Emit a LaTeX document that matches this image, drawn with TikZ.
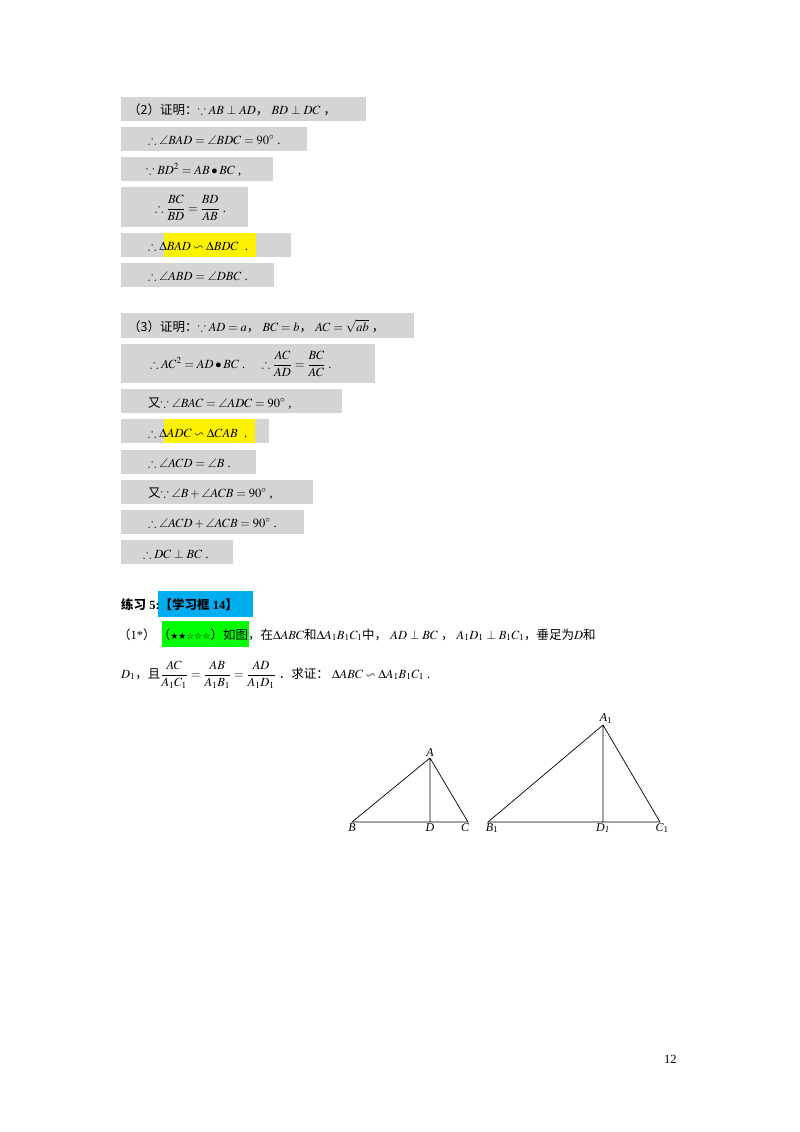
\documentclass[tikz,border=0pt]{standalone}
\usepackage{amsmath,amssymb}
\usepackage{mathptmx}
\usepackage{fontspec}
\setmainfont{Liberation Serif}
\newfontfamily\cjk{Noto Sans CJK SC}
\newfontfamily\djvfont{DejaVu Sans}
\begin{document}
\begin{tikzpicture}[x=1pt,y=-1pt,
  gb/.style={fill=black!17,draw=none},
  yb/.style={fill=yellow,draw=none},
  t/.style={anchor=base west,inner sep=0pt,font=\fontsize{12.5}{14}\selectfont},
  lb/.style={inner sep=1pt,font=\fontsize{12}{14}\itshape},
  ln/.style={line width=0.7pt}]
\useasboundingbox (0,0) rectangle (800,1132);
% section 2 boxes
\fill[gb] (121,97) rectangle (366,121);
\fill[gb] (121,127) rectangle (307,151);
\fill[gb] (121,157) rectangle (273,181);
\fill[gb] (121,187) rectangle (248,227);
\fill[gb] (121,233) rectangle (291,257);
\fill[yb] (164,233) rectangle (256,257);
\fill[gb] (121,263) rectangle (274,287);
\node[t] (s1) at (128,114) {{\cjk （2）证明：}$\because AB\perp AD${\cjk ，} $BD\perp DC$ {\cjk ，}};
\node[t] (s2) at (148,144) {$\therefore \angle BAD=\angle BDC=90^{\circ}$ .};
\node[t] (s3) at (146,174) {$\because BD^2=AB\bullet BC$ ,};
\node[t] (s4) at (155,212) {$\therefore \dfrac{BC}{BD}=\dfrac{BD}{AB}$ .};
\node[t] (s5) at (148,250) {$\therefore \Delta BAD\backsim\Delta BDC$ \ .};
\node[t] (s6) at (148,280) {$\therefore \angle ABD=\angle DBC$ .};
% section 3
\fill[gb] (121,313) rectangle (414,338);
\fill[gb] (121,344) rectangle (375,383);
\fill[gb] (121,389) rectangle (342,413);
\fill[gb] (121,419) rectangle (269,443);
\fill[yb] (164,419) rectangle (255,443);
\fill[gb] (121,450) rectangle (256,474);
\fill[gb] (121,480) rectangle (313,504);
\fill[gb] (121,510) rectangle (304,534);
\fill[gb] (121,540) rectangle (233,564);
\node[t] (r1) at (128,331) {{\cjk （3）证明：}$\because AD=a${\cjk ，} $BC=b${\cjk ，} $AC=\sqrt{ab}$ {\cjk ，}};
\node[t] (r2) at (150,368) {$\therefore AC^2=AD\bullet BC$ . \quad $\therefore \dfrac{AC}{AD}=\dfrac{BC}{AC}$ .};
\node[t] (r3) at (148,407) {{\cjk 又}$\because \angle BAC=\angle ADC=90^{\circ}$ ,};
\node[t] (r4) at (148,437) {$\therefore \Delta ADC\backsim\Delta CAB$ \ .};
\node[t] (r5) at (148,467) {$\therefore \angle ACD=\angle B$ .};
\node[t] (r6) at (148,497) {{\cjk 又}$\because \angle B+\angle ACB=90^{\circ}$ ,};
\node[t] (r7) at (148,527) {$\therefore \angle ACD+\angle ACB=90^{\circ}$ .};
\node[t] (r8) at (143,558) {$\therefore DC\perp BC$ .};
% exercise
\fill[cyan] (158,591) rectangle (253,617);
\fill[green] (162,621) rectangle (249,647);
\node[t] (e1) at (121,609) {\bfseries{\cjk 练习} 5:{\cjk 【学习框} 14{\cjk 】}};
\node[t] (e2) at (118,639) {{\cjk （}1*{\cjk ）}\,{\cjk （}{\djvfont\small ★★☆☆☆}{\cjk ）如图，在}$\Delta ABC${\cjk 和}$\Delta A_1B_1C_1${\cjk 中，} $AD\perp BC$ {\cjk ，} $A_1D_1\perp B_1C_1${\cjk ，垂足为}$D${\cjk 和}};
\node[t] (e3) at (121,678) {$D_1${\cjk ，且}$\dfrac{AC}{A_1C_1}=\dfrac{AB}{A_1B_1}=\dfrac{AD}{A_1D_1}$ {\cjk ．求证：} $\Delta ABC\backsim\Delta A_1B_1C_1$ .};
% triangles
\coordinate (A) at (430,758); \coordinate (B) at (352,822);
\coordinate (C) at (468,822); \coordinate (D) at (430,822);
\coordinate (A1) at (603,725); \coordinate (B1) at (488,822);
\coordinate (C1) at (660,822); \coordinate (D1) at (603,822);
\draw[ln] (B)--(A)--(C)--cycle (A)--(D);
\draw[ln] (B1)--(A1)--(C1)--cycle (A1)--(D1);
\node[lb,above] (lA) at (A) {A};
\node[lb,below] (lB) at (B) {B};
\node[lb,below] (lC) at ([xshift=-3pt]C) {C};
\node[lb,below] (lD) at (D) {D};
\node[lb,above] (lA1) at ([xshift=3pt]A1) {A\textsubscript{\upshape 1}};
\node[lb,below] (lB1) at ([xshift=4pt]B1) {B\textsubscript{\upshape 1}};
\node[lb,below] (lC1) at ([xshift=2pt]C1) {C\textsubscript{\upshape 1}};
\node[lb,below] (lD1) at (D1) {D\textsubscript{1}};
\node[t] (pg) at (664,1063) {12};
\end{tikzpicture}
\end{document}
